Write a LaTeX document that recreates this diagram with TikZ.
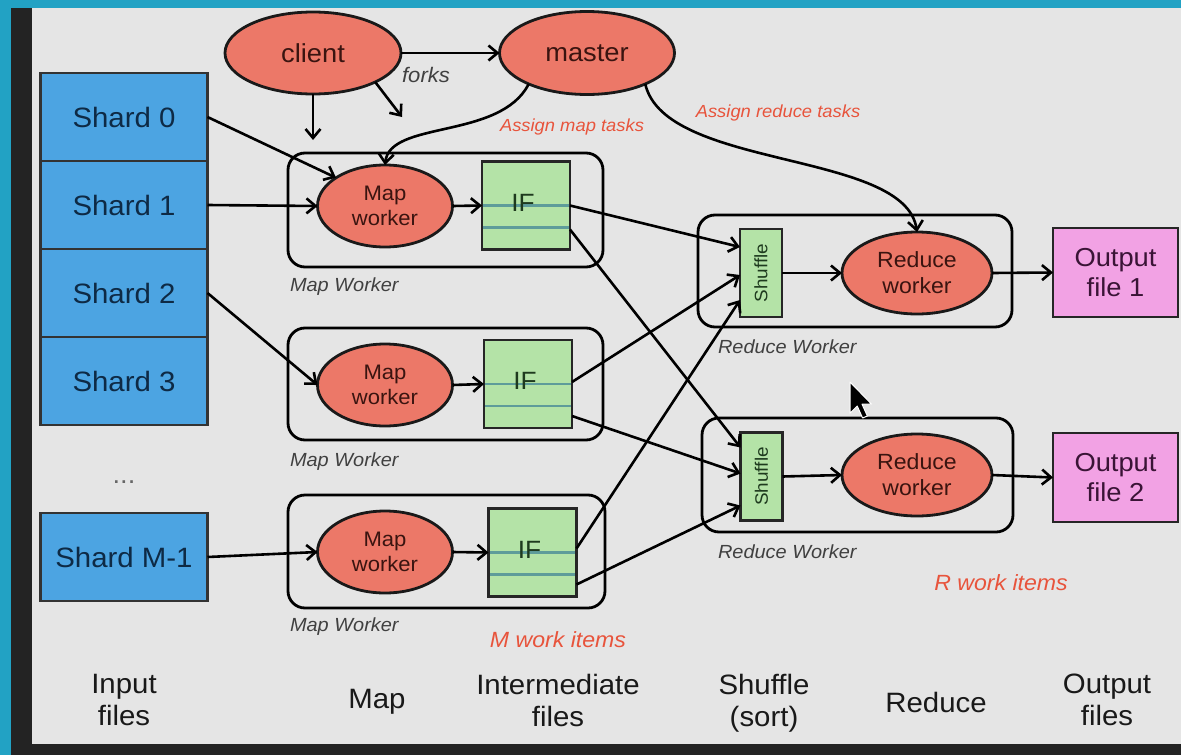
\documentclass[tikz,border=0pt]{standalone}
\usepackage{fontspec}
\usepackage{graphicx}
\setmainfont[FakeStretch=1.05]{Liberation Sans}
\usetikzlibrary{arrows.meta,shapes.geometric,calc}

\definecolor{bgteal}{HTML}{22A2C4}
\definecolor{bgdark}{HTML}{232323}
\definecolor{canvas}{HTML}{E5E5E5}
\definecolor{shardblue}{HTML}{4CA4E2}
\definecolor{salmon}{HTML}{EC7868}
\definecolor{ifgreen}{HTML}{B4E3A7}
\definecolor{outpink}{HTML}{F2A2E4}
\definecolor{tagred}{HTML}{E8543C}
\definecolor{iflinecol}{HTML}{5E9C9A}
\definecolor{shardtext}{HTML}{0E2A45}
\definecolor{ovaltext}{HTML}{3A1410}
\definecolor{iftext}{HTML}{1E3A1E}
\definecolor{outtext}{HTML}{3A1436}

\begin{document}
\begin{tikzpicture}[x=1pt,y=-1pt,
  every node/.style={inner sep=0pt,outer sep=0pt},
  shard/.style={draw=black!80,line width=2.8pt,fill=shardblue,minimum width=167pt,minimum height=88pt,text=shardtext,font=\fontsize{28}{32}\selectfont},
  oval/.style={ellipse,draw=black!90,line width=2.8pt,fill=salmon,text=ovaltext,align=center},
  workerbox/.style={draw=black,line width=2.8pt,rounded corners=17pt},
  ifbox/.style={draw=black!85,line width=2.8pt,fill=ifgreen,minimum width=88pt,minimum height=88pt},
  iflabel/.style={text=iftext,font=\fontsize{25}{28}\selectfont},
  shufbox/.style={draw=black!85,line width=2.5pt,fill=ifgreen,minimum width=42pt,minimum height=88pt,text=iftext,font=\fontsize{18}{20}\selectfont},
  outbox/.style={draw=black!85,line width=2.8pt,fill=outpink,minimum width=125pt,minimum height=89pt,text=outtext,align=center,font=\fontsize{26}{30}\selectfont},
  conn/.style={line width=2.6pt,-{Straight Barb[length=9pt,width=15pt]}},
  ifline/.style={draw=iflinecol,line width=2.2pt,shorten >=1.4pt,shorten <=1.4pt},
  roletag/.style={anchor=west,text=black!75,font=\itshape\fontsize{19}{22}\selectfont},
  tasktag/.style={text=tagred,font=\itshape\fontsize{17.5}{21}\selectfont},
  column/.style={align=center,text=black!90,font=\fontsize{28}{32}\selectfont},
]
\useasboundingbox (0,0) rectangle (1181,755);

% frame and canvas
\fill[bgteal] (0,0) rectangle (1181,755);
\fill[bgdark] (11,8) rectangle (1181,755);
\fill[canvas] (32,8) rectangle (1181,744);

% worker enclosures
\node[workerbox,minimum width=315pt,minimum height=114pt] (mwb1) at (445.5,210) {};
\node[workerbox,minimum width=315pt,minimum height=112pt] (mwb2) at (445.5,384) {};
\node[workerbox,minimum width=317pt,minimum height=113pt] (mwb3) at (446.5,551.5) {};
\node[workerbox,minimum width=314pt,minimum height=112pt] (rwb1) at (855,271) {};
\node[workerbox,minimum width=311pt,minimum height=114pt] (rwb2) at (857.5,475) {};

% input shards
\node[shard] (s0) at (124,117) {Shard 0};
\node[shard] (s1) at (124,205) {Shard 1};
\node[shard] (s2) at (124,293) {Shard 2};
\node[shard] (s3) at (124,381) {Shard 3};
\node[shard] (sM) at (124,557) {Shard M-1};
\node[text=black!60,font=\fontsize{26}{30}\selectfont] (dots) at (124,482) {...};

% client and master
\node[oval,minimum width=176pt,minimum height=82pt,font=\fontsize{26}{30}\selectfont] (client) at (313,53) {client};
\node[oval,minimum width=175pt,minimum height=83pt,font=\fontsize{26}{30}\selectfont] (master) at (587,53) {master};

% map workers
\node[oval,minimum width=135pt,minimum height=82pt,font=\fontsize{21}{25}\selectfont] (m1) at (385,206) {Map\\worker};
\node[oval,minimum width=135pt,minimum height=82pt,font=\fontsize{21}{25}\selectfont] (m2) at (385,385) {Map\\worker};
\node[oval,minimum width=135pt,minimum height=82pt,font=\fontsize{21}{25}\selectfont] (m3) at (385,552) {Map\\worker};

% intermediate files: box, record lines, then label on top
\node[ifbox] (if1) at (526,205.5) {};
\node[ifbox] (if2) at (528,384) {};
\node[ifbox] (if3) at (532.5,552.5) {};
\foreach \i in {1,2,3}{
  \draw[ifline] (if\i.west) -- (if\i.east);
  \draw[ifline] ($(if\i.west)+(0,22)$) -- ($(if\i.east)+(0,22)$);
  \node[iflabel] (ift\i) at ($(if\i.center)+(-3,-3)$) {IF};
}

% shuffle and reduce
\node[shufbox] (sh1) at (761,273) {\rotatebox{90}{Shuffle}};
\node[shufbox] (sh2) at (761.5,476.5) {\rotatebox{90}{Shuffle}};
\node[oval,minimum width=150pt,minimum height=82pt,font=\fontsize{22}{26}\selectfont] (r1) at (917,273) {Reduce\\worker};
\node[oval,minimum width=150pt,minimum height=82pt,font=\fontsize{22}{26}\selectfont] (r2) at (917,475) {Reduce\\worker};

% output files
\node[outbox] (o1) at (1115.5,272.5) {Output\\file 1};
\node[outbox] (o2) at (1115.5,477.5) {Output\\file 2};

% control flow
\draw[conn] (client.east) -- (master.west);
\node[text=black!75,font=\itshape\fontsize{21}{24}\selectfont] (forks) at (426,75) {forks};
\coordinate (fork1) at (313,140);
\coordinate (fork2) at (402,117);
\draw[conn] (client.south) -- (fork1);
\draw[conn] (client.-25) -- (fork2);
\draw[conn] (master.-152) .. controls (500,140) and (390,120) .. (m1.north);
\draw[conn] (master.-28) .. controls (665,170) and (905,150) .. (r1.north);
\node[tasktag] (tmap) at (572,127) {Assign map tasks};
\node[tasktag] (tred) at (778,113) {Assign reduce tasks};

% data flow: shards to map workers
\draw[conn] (s0.east) -- (m1.150);
\draw[conn] (s1.east) -- (m1.west);
\draw[conn] (s2.east) -- (m2.west);
\draw[conn] (sM.east) -- (m3.west);

% map workers to intermediate files
\draw[conn] (m1.east) -- (if1.west);
\draw[conn] (m2.east) -- (if2.west);
\draw[conn] (m3.east) -- (if3.west);

% intermediate files to shuffles
\draw[conn] (if1.east) -- ($(sh1.west)+(0,-26)$);
\draw[conn] ($(if1.east)+(0,24)$) -- ($(sh2.west)+(0,-29)$);
\draw[conn] ($(if2.east)+(0,-2)$) -- ($(sh1.west)+(0,2)$);
\draw[conn] ($(if2.east)+(0,32)$) -- ($(sh2.west)+(0,-3)$);
\draw[conn] ($(if3.east)+(0,-4)$) -- ($(sh1.west)+(0,27)$);
\draw[conn] ($(if3.east)+(0,32)$) -- ($(sh2.west)+(0,29)$);

% shuffle to reduce to output
\draw[conn] (sh1.east) -- (r1.west);
\draw[conn] (sh2.east) -- (r2.west);
\draw[conn] (r1.east) -- (o1.west);
\draw[conn] (r2.east) -- (o2.west);

% role labels
\node[roletag] (lm1) at (290,287) {Map Worker};
\node[roletag] (lm2) at (290,462) {Map Worker};
\node[roletag] (lm3) at (290,627) {Map Worker};
\node[roletag] (lr1) at (718,347) {Reduce Worker};
\node[roletag] (lr2) at (718,552) {Reduce Worker};
\node[text=tagred,font=\itshape\fontsize{22}{26}\selectfont] (mitems) at (558,640) {M work items};
\node[text=tagred,font=\itshape\fontsize{22}{26}\selectfont] (ritems) at (1001,583) {R work items};

% column headings
\node[column] (hin) at (124,700) {Input\\files};
\node[column] (hmap) at (377,702) {Map};
\node[column] (hif) at (558,700) {Intermediate\\files};
\node[column] (hsh) at (764,703) {Shuffle\\(sort)};
\node[column] (hred) at (936,702) {Reduce};
\node[column] (hout) at (1107,700) {Output\\files};

% mouse pointer
\begin{scope}[shift={(850,382)},scale=1.2]
  \filldraw[fill=black,draw=white,line width=1pt,line join=round]
    (0,0) -- (0,26) -- (6,20) -- (10.5,30) -- (14.5,28.3) -- (10,18.5) -- (18,18.5) -- cycle;
\end{scope}
\end{tikzpicture}
\end{document}
